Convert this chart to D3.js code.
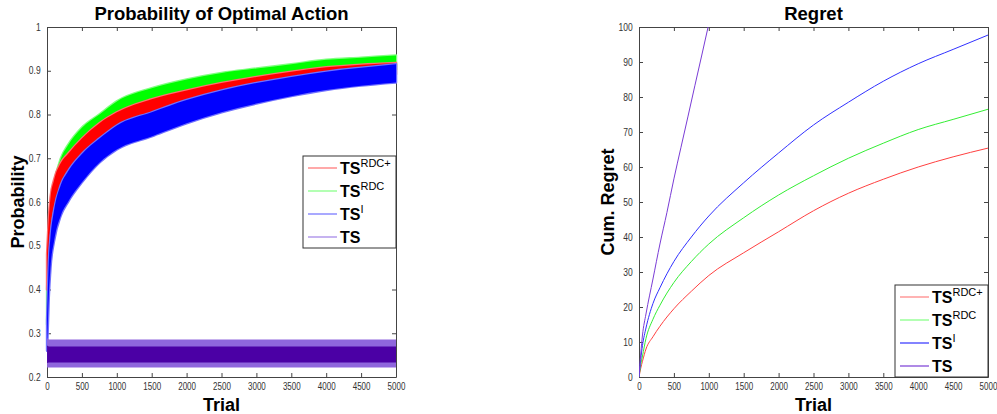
<!DOCTYPE html>
<meta charset="utf-8">
<style>
  body { margin: 0; background: #fff; }
  text { font-family: "Liberation Sans", Arial, sans-serif; }
  .tick text { font-size: 10px; fill: #333; }
</style>
<script src="https://d3js.org/d3.v7.min.js"></script>
<div id="chart"></div>
<script>
var trials = [1, 25, 50, 100, 200, 300, 500, 750, 1000, 1500, 2000, 2500, 3000, 3500, 4000, 4500, 5000];

// probability of optimal action: lower / upper edge of each noisy band
var rdcPlusLo = [0.40, 0.49, 0.54, 0.59, 0.635, 0.66, 0.695, 0.73, 0.755, 0.79, 0.81, 0.832, 0.85, 0.866, 0.878, 0.886, 0.892];
var rdcPlusHi = [0.48, 0.56, 0.61, 0.65, 0.69, 0.71, 0.745, 0.78, 0.805, 0.835, 0.855, 0.872, 0.886, 0.898, 0.908, 0.914, 0.918];
var rdcLo = [0.32, 0.44, 0.51, 0.58, 0.64, 0.67, 0.72, 0.755, 0.78, 0.815, 0.84, 0.86, 0.872, 0.884, 0.893, 0.898, 0.903];
var rdcHi = [0.40, 0.52, 0.58, 0.64, 0.70, 0.73, 0.77, 0.80, 0.83, 0.86, 0.88, 0.895, 0.905, 0.915, 0.925, 0.93, 0.935];
var tsiLo = [0.26, 0.38, 0.45, 0.51, 0.57, 0.60, 0.645, 0.69, 0.72, 0.75, 0.78, 0.805, 0.825, 0.842, 0.856, 0.866, 0.873];
var tsiHi = [0.33, 0.46, 0.52, 0.58, 0.64, 0.67, 0.71, 0.745, 0.775, 0.805, 0.833, 0.855, 0.872, 0.886, 0.898, 0.907, 0.915];
// TS: light outer spread and dark core
var tsLo = [0.222, 0.222, 0.222, 0.222, 0.222, 0.222, 0.222, 0.222, 0.222, 0.222, 0.222, 0.222, 0.222, 0.222, 0.222, 0.222, 0.222];
var tsHi = [0.29, 0.286, 0.286, 0.286, 0.286, 0.286, 0.286, 0.286, 0.286, 0.286, 0.286, 0.286, 0.286, 0.286, 0.286, 0.286, 0.286];
var tsCoreLo = [0.232, 0.233, 0.233, 0.233, 0.233, 0.233, 0.233, 0.233, 0.233, 0.233, 0.233, 0.233, 0.233, 0.233, 0.233, 0.233, 0.233];
var tsCoreHi = [0.272, 0.27, 0.27, 0.27, 0.27, 0.27, 0.27, 0.27, 0.27, 0.27, 0.27, 0.27, 0.27, 0.27, 0.27, 0.27, 0.27];

// cumulative regret
var regTrials = [0, 25, 50, 100, 200, 300, 500, 750, 1000, 1500, 2000, 2500, 3000, 3500, 4000, 4500, 5000];
var regRdcPlus = [0, 2.5, 4.5, 8, 11.5, 14.5, 19.5, 24.5, 29, 35.5, 41.5, 47.5, 52.5, 56.5, 60, 62.9, 65.4];
var regRdc = [0, 3.5, 6, 11, 16.5, 20.5, 27, 33, 38, 45.5, 52, 57.5, 62.5, 66.8, 70.7, 73.6, 76.5];
var regTsi = [0, 5, 9, 14, 21, 25.5, 33, 40, 46, 55.5, 64, 72, 78.5, 84.5, 89.5, 93.6, 97.7];
var tsTrials = [0, 50, 100, 200, 300, 400, 500, 600, 700, 800, 900, 1000];
var regTs = [0, 12, 18, 28, 38, 47, 56.6, 65.5, 74.3, 83.2, 92, 100.9];

var names = ["RDC+", "RDC", "I", ""];
var colors = ["#ff0000", "#00ff00", "#0000ff", "#4b00a5"];
var halo = ["#ff7070", "#80ff80", "#7070ff", "#a080e6"];
var lineColors = ["#ff4040", "#33ee33", "#3030ff", "#7a3cd6"];

var svg = d3.select("#chart").append("svg")
  .attr("width", 997).attr("height", 414);

function makeAxes(g, x, y, w, h, yTicks, yFmt) {
  g.append("rect").attr("width", w).attr("height", h).attr("fill", "#fff");
  var ax = g.append("g").attr("transform", "translate(0," + h + ")")
    .call(d3.axisBottom(x).tickValues(d3.range(0, 5001, 500)).tickFormat(d3.format("d"))
      .tickSizeInner(-4).tickSizeOuter(0).tickPadding(6));
  var ay = g.append("g")
    .call(d3.axisLeft(y).tickValues(yTicks).tickFormat(yFmt).tickSizeInner(-4).tickSizeOuter(0).tickPadding(6));
  var at = g.append("g")
    .call(d3.axisTop(x).tickValues(d3.range(0, 5001, 500)).tickSizeInner(-4).tickSizeOuter(0).tickFormat(""));
  var ar = g.append("g").attr("transform", "translate(" + w + ",0)")
    .call(d3.axisRight(y).tickValues(yTicks).tickSizeInner(-4).tickSizeOuter(0).tickFormat(""));
  [ax, ay, at, ar].forEach(function (a) {
    a.selectAll("path, line").attr("stroke", "#444");
  });
  // the tick font of the original is narrow
  ax.selectAll(".tick text").attr("transform", "scale(0.8,1)");
  ay.selectAll(".tick text").attr("x", -7.5).attr("transform", "scale(0.85,1)");
}

function legend(g, lx, ly, lw, lh, cols) {
  var lg = g.append("g").attr("transform", "translate(" + lx + "," + ly + ")");
  lg.append("rect").attr("width", lw).attr("height", lh)
    .attr("fill", "#fff").attr("stroke", "#333");
  names.forEach(function (n, i) {
    var yy = 12 + i * 23;
    lg.append("line").attr("x1", 5).attr("x2", 34).attr("y1", yy).attr("y2", yy)
      .attr("stroke", cols[i]).attr("stroke-width", 1.2);
    var t = lg.append("text").attr("x", 37).attr("y", yy + 6)
      .style("font-size", "16px").style("font-weight", "bold").text("TS");
    if (n) t.append("tspan").attr("dy", -7).style("font-size", "11px")
      .style("font-weight", "normal").text(n);
  });
}

// ---------- left: probability ----------
var W = 349, H = 350;
var g1 = svg.append("g").attr("transform", "translate(47,27)");
var x1 = d3.scaleLinear().domain([0, 5000]).range([0, W]);
var y1 = d3.scaleLinear().domain([0.2, 1]).range([H, 0]);
makeAxes(g1, x1, y1, W, H, d3.range(0.2, 1.01, 0.1).map(function (v) { return +v.toFixed(1); }),
  function (d) { return d === 1 ? "1" : d3.format(".1f")(d); });

var area = d3.area().curve(d3.curveMonotoneX)
  .x(function (d) { return x1(d.t); })
  .y0(function (d) { return y1(d.lo); })
  .y1(function (d) { return y1(d.hi); });
function band(lo, hi, fill, stroke) {
  var pts = trials.map(function (t, i) { return { t: t, lo: lo[i], hi: hi[i] }; });
  if (stroke) g1.append("path").datum(pts).attr("d", area)
    .attr("fill", stroke).attr("stroke", stroke).attr("stroke-width", 2.5).attr("stroke-linejoin", "round");
  g1.append("path").datum(pts).attr("d", area).attr("fill", fill);
}
band(rdcLo, rdcHi, colors[1], halo[1]);
band(rdcPlusLo, rdcPlusHi, colors[0], halo[0]);
band(tsiLo, tsiHi, colors[2], halo[2]);
band(tsLo, tsHi, "#8f66dd", null);
band(tsCoreLo, tsCoreHi, colors[3], null);

g1.append("text").attr("x", W / 2).attr("y", -7).attr("text-anchor", "middle")
  .style("font-size", "18.5px").style("font-weight", "bold").text("Probability of Optimal Action");
g1.append("text").attr("x", W / 2).attr("y", H + 34).attr("text-anchor", "middle")
  .style("font-size", "18px").style("font-weight", "bold").text("Trial");
g1.append("text").attr("transform", "translate(-23," + (H / 2) + ")rotate(-90)")
  .attr("text-anchor", "middle").style("font-size", "18px").style("font-weight", "bold").text("Probability");
legend(g1, 256, 129, 93, 92, halo);

// ---------- right: regret ----------
var g2 = svg.append("g").attr("transform", "translate(639,27)");
var x2 = d3.scaleLinear().domain([0, 5000]).range([0, W]);
var y2 = d3.scaleLinear().domain([0, 100]).range([H, 0]);
makeAxes(g2, x2, y2, W, H, d3.range(0, 101, 10), d3.format("d"));

svg.append("clipPath").attr("id", "clip2").append("rect").attr("width", W).attr("height", H);
var plot2 = g2.append("g").attr("clip-path", "url(#clip2)");
var line2 = d3.line().curve(d3.curveMonotoneX)
  .x(function (d) { return x2(d[0]); }).y(function (d) { return y2(d[1]); });
[[regTrials, regRdcPlus, 0], [regTrials, regRdc, 1], [regTrials, regTsi, 2], [tsTrials, regTs, 3]].forEach(function (s) {
  var pts = s[0].map(function (t, i) { return [t, s[1][i]]; });
  plot2.append("path").datum(pts).attr("d", line2)
    .attr("fill", "none").attr("stroke", lineColors[s[2]]).attr("stroke-width", 1);
});

g2.append("text").attr("x", W / 2).attr("y", -7).attr("text-anchor", "middle")
  .style("font-size", "18.5px").style("font-weight", "bold").text("Regret");
g2.append("text").attr("x", W / 2).attr("y", H + 34).attr("text-anchor", "middle")
  .style("font-size", "18px").style("font-weight", "bold").text("Trial");
g2.append("text").attr("transform", "translate(-25," + (H / 2) + ")rotate(-90)")
  .attr("text-anchor", "middle").style("font-size", "18px").style("font-weight", "bold").text("Cum. Regret");
legend(g2, 256, 258, 93, 92, ["#ff8080", "#80ff80", "#3030ff", "#7a3cd6"]);
</script>
